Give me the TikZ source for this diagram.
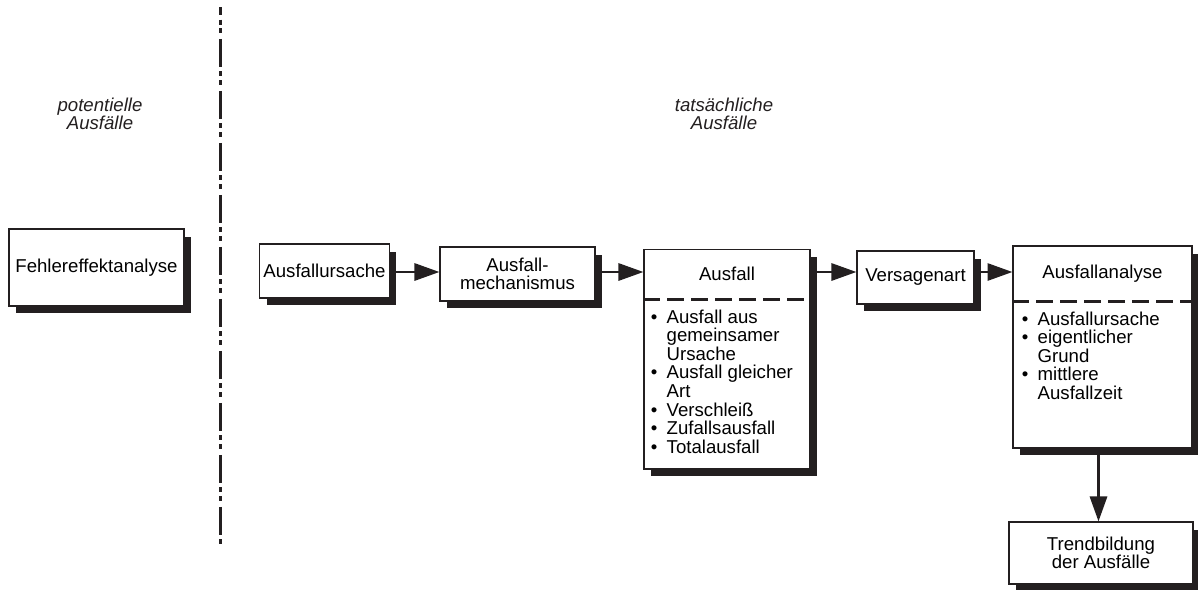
\documentclass[tikz,border=0pt]{standalone}
\usepackage{fontspec}
\setmainfont{Liberation Sans}
\usetikzlibrary{arrows.meta,shadows,positioning}
\definecolor{ink}{HTML}{231F20}

\newcommand{\bl}{\makebox[0.85em][l]{•}}
\newcommand{\ind}{\hspace*{0.85em}}

\begin{document}
\begin{tikzpicture}[x=0.02cm,y=-0.02cm,
	font=\fontsize{10.6}{10.6}\selectfont,
	box/.style={draw=ink, line width=0.6pt, fill=white, align=center, inner sep=2pt,
		drop shadow={shadow xshift=0.14cm, shadow yshift=-0.15cm, fill=ink, opacity=1}},
	kopf/.style={inner sep=0pt, anchor=north},
	liste/.style={inner sep=0pt, align=left},
	arr/.style={draw=ink, line width=1.7pt, -{Triangle[length=5mm,width=3.4mm]}},
	trenn/.style={draw=ink, line width=1.6pt, dash pattern=on 0.34cm off 0.14cm},
	grenze/.style={draw=ink, line width=1.85pt,
		dash pattern=on 0.56cm off 0.09cm on 0.1cm off 0.08cm on 0.1cm off 0.11cm, dash phase=0.4cm},
	lbl/.style={font=\fontsize{10.6}{10.6}\selectfont\itshape, align=center, text=ink}]

	\useasboundingbox (0,0) rectangle (1198,589);

	% Trennlinie potentiell / tatsaechlich
	\draw[grenze] (220.5,7) -- (220.5,545);

	\node[lbl] (pot) at (100,114) {potentielle\\Ausfälle};
	\node[lbl] (tat) at (724,114) {tatsächliche\\Ausfälle};

	\node[box, minimum width=3.5cm, minimum height=1.54cm] (fehler) at (96.5,267.5) {Fehlereffektanalyse};

	\node[box, minimum width=2.54cm, minimum height=1.08cm] (ursache) at (324.5,271) {Ausfallursache};
	\node[box, minimum width=3.1cm, minimum height=1.08cm] (mech) at (517.5,274) {Ausfall-\\mechanismus};

	% Ausfall mit Liste
	\node[box, minimum width=3.32cm, minimum height=4.4cm] (ausfall) at (727,359) {};
	\node[kopf, minimum height=1cm] (ausfallkopf) at (ausfall.north) {Ausfall};
	\coordinate (ak) at (ausfall.west |- ausfallkopf.south);
	\draw[trenn] (ak) -- (ausfall.east |- ak);
	\node[liste, below right=0.2cm and 0.14cm of ak, anchor=north west] (ausfallliste) {%
		\bl Ausfall aus\\\ind gemeinsamer\\\ind Ursache\\
		\bl Ausfall gleicher\\\ind Art\\
		\bl Verschleiß\\
		\bl Zufallsausfall\\
		\bl Totalausfall};

	\node[box, minimum width=2.34cm, minimum height=1.06cm] (versagen) at (915.5,277.5) {Versagenart};

	% Ausfallanalyse mit Liste
	\node[box, minimum width=3.58cm, minimum height=4.04cm] (analyse) at (1102.5,347) {};
	\node[kopf, minimum height=1.1cm] (analysekopf) at (analyse.north) {Ausfallanalyse};
	\coordinate (bk) at (analyse.west |- analysekopf.south);
	\draw[trenn] (bk) -- (analyse.east |- bk);
	\node[liste, below right=0.2cm and 0.18cm of bk, anchor=north west] (analyseliste) {%
		\bl Ausfallursache\\
		\bl eigentlicher\\\ind Grund\\
		\bl mittlere\\\ind Ausfallzeit};

	\node[box, minimum width=3.68cm, minimum height=1.24cm] (trend) at (1101,553) {Trendbildung\\der Ausfälle};

	% Pfeile
	\coordinate (lvl) at (0,272);
	\draw[arr] (ursache.east |- lvl) -- (mech.west |- lvl);
	\draw[arr] (mech.east |- lvl) -- (ausfall.west |- lvl);
	\draw[arr] (ausfall.east |- lvl) -- (versagen.west |- lvl);
	\draw[arr] (versagen.east |- lvl) -- (analyse.west |- lvl);
	\draw[arr] ([xshift=-0.08cm]analyse.south) -- ([xshift=-0.08cm]analyse.south |- trend.north);
\end{tikzpicture}
\end{document}
